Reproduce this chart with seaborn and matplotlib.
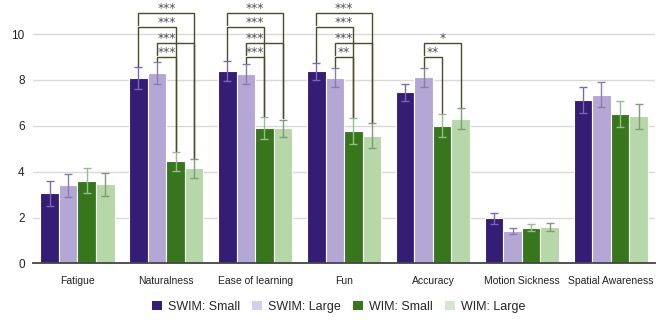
import matplotlib
matplotlib.use("Agg")
import matplotlib.pyplot as plt
from matplotlib.patches import Patch
import seaborn as sns
import pandas as pd

# Questionnaire categories and conditions
categories = ["Fatigue", "Naturalness", "Ease of learning", "Fun",
              "Accuracy", "Motion Sickness", "Spatial Awareness"]
series = ["SWIM: Small", "SWIM: Large", "WIM: Small", "WIM: Large"]

# Mean ratings per condition
swim_small = [3.05, 8.09, 8.40, 8.37, 7.46, 1.96, 7.12]
swim_large = [3.41, 8.30, 8.26, 8.09, 8.11, 1.40, 7.35]
wim_small = [3.60, 4.45, 5.90, 5.77, 6.00, 1.55, 6.51]
wim_large = [3.44, 4.14, 5.90, 5.57, 6.31, 1.58, 6.41]

# Standard errors per condition
swim_small_err = [0.55, 0.48, 0.43, 0.38, 0.37, 0.25, 0.57]
swim_large_err = [0.50, 0.46, 0.42, 0.41, 0.40, 0.13, 0.54]
wim_small_err = [0.55, 0.42, 0.47, 0.55, 0.50, 0.16, 0.56]
wim_large_err = [0.50, 0.41, 0.37, 0.55, 0.47, 0.19, 0.55]

# Pairwise significance: category, left condition, right condition,
# bracket height and star label
sig_category = ["Naturalness"] * 4 + ["Ease of learning"] * 4 + ["Fun"] * 4 + ["Accuracy"] * 2
sig_left = [0, 0, 1, 1] * 3 + [1, 1]
sig_right = [3, 2, 3, 2] * 3 + [3, 2]
sig_height = [10.93, 10.29, 9.61, 8.98] * 3 + [9.61, 8.98]
sig_label = ["***"] * 4 + ["***"] * 4 + ["***", "***", "***", "**"] + ["*", "**"]
# stars sit over the middle of the group, or over their own bracket
sig_at_group = [True] * 12 + [False, True]

bar_colors = ["#351c75", "#b4a7d6", "#38761d", "#b6d7a8"]
legend_colors = ["#351c75", "#d5cde9", "#38761d", "#d4e7cb"]
err_colors = ["#7b68b3", "#8a7daa", "#93c08a", "#7f9b79"]
bracket_color = "#4c4c2a"

values = [swim_small, swim_large, wim_small, wim_large]
errors = [swim_small_err, swim_large_err, wim_small_err, wim_large_err]

df = pd.DataFrame({
    "category": [c for s in series for c in categories],
    "series": [s for s in series for _ in categories],
    "value": [v for vals in values for v in vals],
})

sns.set_theme(style="white")
plt.rcParams["font.family"] = ["Liberation Sans", "DejaVu Sans"]

fig = plt.figure(figsize=(6.59, 3.20), dpi=100)
ax = fig.add_axes([0.0501, 0.177, 0.944, 0.8097])

sns.barplot(data=df, x="category", y="value", hue="series", order=categories,
            hue_order=series, palette=bar_colors, width=0.835, errorbar=None,
            edgecolor="white", linewidth=0.8, saturation=1, ax=ax, legend=False)

ax.set_xlim(-0.5, 6.5)
ax.set_ylim(0, 11.3)
ax.set_yticks([0, 2, 4, 6, 8, 10])
ax.yaxis.grid(True, color="#d9d9d9", linewidth=1.0)
ax.set_axisbelow(True)
for side in ["top", "right", "left"]:
    ax.spines[side].set_visible(False)
ax.spines["bottom"].set_color("#444444")
ax.spines["bottom"].set_linewidth(1.3)
ax.set_xlabel("")
ax.set_ylabel("")
ax.tick_params(axis="y", labelsize=8.5, colors="#222222", length=0, pad=6)
ax.tick_params(axis="x", labelsize=7.5, colors="#222222", length=0, pad=9)

# Error bars placed at the centres of the drawn bars
bar_containers = list(ax.containers)
centers = {}
tops = {}
for si, cont in enumerate(bar_containers):
    xs = [b.get_x() + b.get_width() / 2 for b in cont.patches]
    hs = [b.get_height() for b in cont.patches]
    ax.errorbar(xs, hs, yerr=errors[si], fmt="none", ecolor=err_colors[si],
                elinewidth=1.0, capsize=3.2, capthick=1.0, zorder=3)
    for ci, (x, h) in enumerate(zip(xs, hs)):
        centers[(ci, si)] = x
        tops[(ci, si)] = h + errors[si][ci]

# Significance brackets
sig = list(zip(sig_category, sig_left, sig_right, sig_height, sig_label, sig_at_group))
for cat, l, r, h, lab, at_group in sig:
    ci = categories.index(cat)
    xl, xr = centers[(ci, l)], centers[(ci, r)]
    # the left leg stops just above a lower bracket starting on the same bar
    lower = [h2 for c2, l2, _, h2, _, _ in sig if c2 == cat and l2 == l and h2 < h]
    yl = max(lower) + 0.1 if lower else tops[(ci, l)] + 0.05
    yr = tops[(ci, r)] + 0.05
    ax.plot([xl, xl, xr, xr], [yl, h, h, yr], color=bracket_color, linewidth=1.0,
            clip_on=False, zorder=4, solid_joinstyle="miter")
    xt = ci if at_group else (xl + xr) / 2
    ax.text(xt, h + 0.2, lab, ha="center", va="center",
            fontsize=8.8, color="#4a4a4a", family="DejaVu Sans", zorder=5)

handles = [Patch(facecolor=c, edgecolor="none") for c in legend_colors]
fig.legend(handles, series, loc="center", bbox_to_anchor=(0.514, 0.04),
           ncol=4, frameon=False, fontsize=9, handlelength=0.75,
           handleheight=0.75, handletextpad=0.5, columnspacing=1.0)

fig.savefig("out.png", dpi=100)
